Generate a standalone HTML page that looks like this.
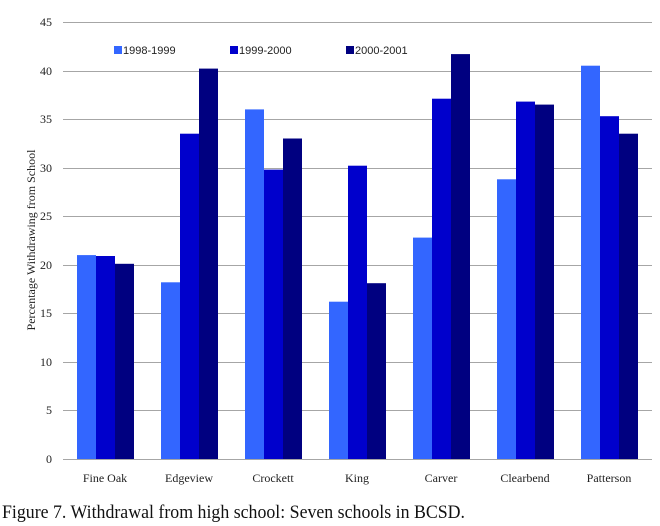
<!DOCTYPE html>
<html><head><meta charset="utf-8"><style>
html,body{margin:0;padding:0;background:#fff;}
svg{display:block;}
</style></head><body>
<svg width="660" height="526" viewBox="0 0 660 526" xmlns="http://www.w3.org/2000/svg" font-family="Liberation Serif, serif">
<g stroke="#a6a6a6" stroke-width="1">
<line x1="63" y1="22.5" x2="652" y2="22.5"/>
<line x1="63" y1="71.5" x2="652" y2="71.5"/>
<line x1="63" y1="119.5" x2="652" y2="119.5"/>
<line x1="63" y1="168.5" x2="652" y2="168.5"/>
<line x1="63" y1="216.5" x2="652" y2="216.5"/>
<line x1="63" y1="265.5" x2="652" y2="265.5"/>
<line x1="63" y1="313.5" x2="652" y2="313.5"/>
<line x1="63" y1="362.5" x2="652" y2="362.5"/>
<line x1="63" y1="410.5" x2="652" y2="410.5"/>
<line x1="63" y1="459.5" x2="652" y2="459.5"/>
</g>
<g font-size="12" fill="#222" text-anchor="end">
<text x="52" y="26">45</text><text x="52" y="75">40</text><text x="52" y="123">35</text>
<text x="52" y="172">30</text><text x="52" y="220">25</text><text x="52" y="269">20</text>
<text x="52" y="317">15</text><text x="52" y="366">10</text><text x="52" y="414">5</text>
<text x="52" y="463">0</text>
</g>
<text transform="translate(35,240) rotate(-90)" font-size="12" text-anchor="middle" fill="#222">Percentage Withdrawing from School</text>
<g id="bars"></g>
<g font-size="12" fill="#222" text-anchor="middle">
<text x="105" y="482">Fine Oak</text><text x="189" y="482">Edgeview</text><text x="273" y="482">Crockett</text>
<text x="357" y="482">King</text><text x="441" y="482">Carver</text><text x="525" y="482">Clearbend</text>
<text x="609" y="482">Patterson</text>
</g>
<g font-family="Liberation Sans, sans-serif" font-size="11" fill="#222">
<rect x="114" y="46" width="8" height="8" fill="#3366ff"/><text x="123" y="54">1998-1999</text>
<rect x="230" y="46" width="8" height="8" fill="#0000cc"/><text x="239" y="54">1999-2000</text>
<rect x="346" y="46" width="8" height="8" fill="#000080"/><text x="355" y="54">2000-2001</text>
</g>
<text x="2" y="518" font-size="19" fill="#111" textLength="463" lengthAdjust="spacingAndGlyphs">Figure 7. Withdrawal from high school: Seven schools in BCSD.</text>
<g>
<!-- bars: y = 459 - v*9.711 -->
<rect x="77" y="255.1" width="19" height="203.9" fill="#3366ff"/>
<rect x="96" y="256.0" width="19" height="203.0" fill="#0000cc"/>
<rect x="115" y="263.8" width="19" height="195.2" fill="#000080"/>
<rect x="161" y="282.3" width="19" height="176.7" fill="#3366ff"/>
<rect x="180" y="133.7" width="19" height="325.3" fill="#0000cc"/>
<rect x="199" y="68.6" width="19" height="390.4" fill="#000080"/>
<rect x="245" y="109.4" width="19" height="349.6" fill="#3366ff"/>
<rect x="264" y="169.6" width="19" height="289.4" fill="#0000cc"/>
<rect x="283" y="138.5" width="19" height="320.5" fill="#000080"/>
<rect x="329" y="301.7" width="19" height="157.3" fill="#3366ff"/>
<rect x="348" y="165.7" width="19" height="293.3" fill="#0000cc"/>
<rect x="367" y="283.2" width="19" height="175.8" fill="#000080"/>
<rect x="413" y="237.6" width="19" height="221.4" fill="#3366ff"/>
<rect x="432" y="98.7" width="19" height="360.3" fill="#0000cc"/>
<rect x="451" y="54.1" width="19" height="404.9" fill="#000080"/>
<rect x="497" y="179.3" width="19" height="279.7" fill="#3366ff"/>
<rect x="516" y="101.6" width="19" height="357.4" fill="#0000cc"/>
<rect x="535" y="104.6" width="19" height="354.4" fill="#000080"/>
<rect x="581" y="65.7" width="19" height="393.3" fill="#3366ff"/>
<rect x="600" y="116.2" width="19" height="342.8" fill="#0000cc"/>
<rect x="619" y="133.7" width="19" height="325.3" fill="#000080"/>
</g>
</svg>
</body></html>
